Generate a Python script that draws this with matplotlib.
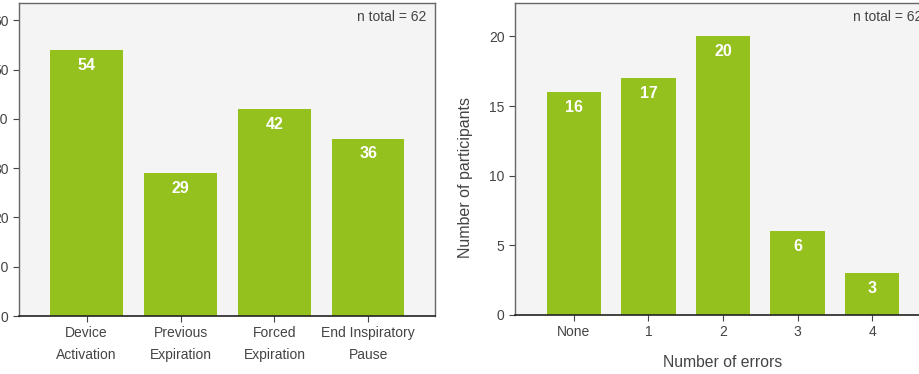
import matplotlib
matplotlib.use("Agg")
import matplotlib.pyplot as plt

plt.rcParams["font.family"] = ["Liberation Sans", "DejaVu Sans"]

_BAR_COLOR = "#95c11f"
_FACE_COLOR = "#f4f4f4"
_TEXT_COLOR = "#444444"
_FONTSIZE = 10

steps = ["Device\nActivation", "Previous\nExpiration", "Forced\nExpiration", "End Inspiratory\nPause"]
step_counts = [54, 29, 42, 36]

error_labels = ["None", "1", "2", "3", "4"]
error_counts = [16, 17, 20, 6, 3]

n_total = 62


def _style_axis(ax):
    ax.set_facecolor(_FACE_COLOR)
    for side in ("top", "right", "left"):
        ax.spines[side].set_color("#666666")
        ax.spines[side].set_linewidth(1.0)
    ax.spines["bottom"].set_color("#222222")
    ax.spines["bottom"].set_linewidth(1.2)
    ax.tick_params(axis="both", labelsize=_FONTSIZE, colors="#444444",
                   labelcolor=_TEXT_COLOR, length=4, width=0.8)
    ax.text(0.98, 0.955, f"n total = {n_total}", transform=ax.transAxes,
            ha="right", va="center", fontsize=_FONTSIZE, color=_TEXT_COLOR)


def _bar_labels(ax, bars, values):
    for b, v in zip(bars, values):
        ax.annotate(str(v), (b.get_x() + b.get_width() / 2, b.get_height()),
                    xytext=(0, -11), textcoords="offset points",
                    ha="center", va="center", color="white",
                    fontsize=11.5, fontweight="bold")


fig = plt.figure(figsize=(9.19, 3.74), dpi=100)
ax1 = fig.add_axes([19 / 919, 1 - 316 / 374, 416 / 919, 313 / 374])
ax2 = fig.add_axes([515 / 919, 1 - 315 / 374, 416 / 919, 312 / 374])

x1 = range(len(steps))
bars1 = ax1.bar(x1, step_counts, width=0.77, color=_BAR_COLOR, zorder=2)
ax1.set_xticks(list(x1))
ax1.set_xticklabels(steps, linespacing=1.7)
ax1.set_xlim(-0.72, 3.71)
ax1.set_ylim(0, 63.5)
ax1.set_yticks(range(0, 61, 10))
_style_axis(ax1)
_bar_labels(ax1, bars1, step_counts)

x2 = range(len(error_labels))
bars2 = ax2.bar(x2, error_counts, width=0.73, color=_BAR_COLOR, zorder=2)
ax2.set_xticks(list(x2))
ax2.set_xticklabels(error_labels)
ax2.set_xlim(-0.79, 4.79)
ax2.set_ylim(0, 22.4)
ax2.set_yticks(range(0, 21, 5))
ax2.set_xlabel("Number of errors", fontsize=11.3, color=_TEXT_COLOR, labelpad=11)
ax2.set_ylabel("Number of participants", fontsize=11.5, color=_TEXT_COLOR)
ax2.yaxis.set_label_coords(-0.101, 0.44)
_style_axis(ax2)
_bar_labels(ax2, bars2, error_counts)

fig.savefig("out.png", dpi=100)
